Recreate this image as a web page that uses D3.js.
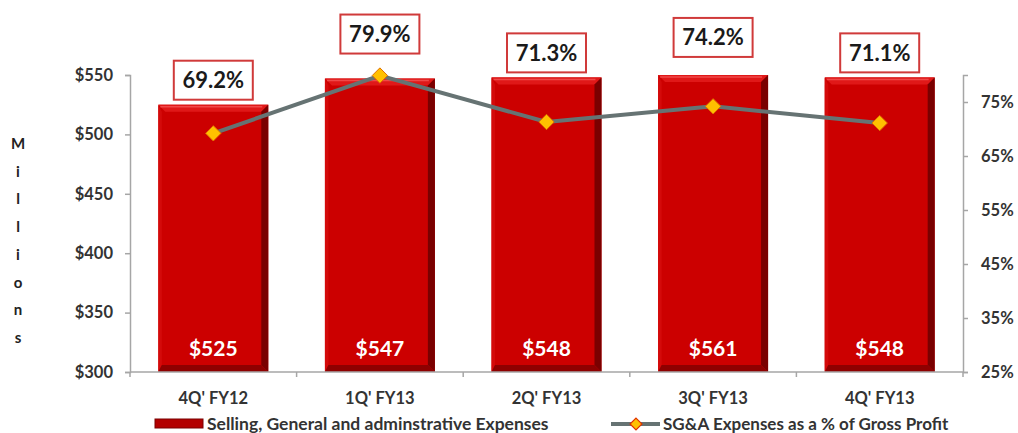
<!DOCTYPE html>
<html>
<head>
<meta charset="utf-8">
<script src="https://cdn.jsdelivr.net/npm/d3@7"></script>
<style>
  body { margin: 0; background: #fff; }
  text { font-family: Lato, "Open Sans", sans-serif; }
</style>
</head>
<body>
<div id="chart"></div>
<script>
var quarters = ["4Q' FY12", "1Q' FY13", "2Q' FY13", "3Q' FY13", "4Q' FY13"];
var sgaExpenses = [525, 547, 548, 561, 548];
var sgaPctGross = [69.2, 79.9, 71.3, 74.2, 71.1];
var leftTicks = [300, 350, 400, 450, 500, 550];
var rightTicks = [25, 35, 45, 55, 65, 75];

var w = 1018, h = 433;
var plotLeft = 130, plotRight = 963, plotTop = 75, plotBottom = 372;

var svg = d3.select("#chart").append("svg")
    .attr("width", w)
    .attr("height", h);

var x = d3.scaleBand()
    .domain(quarters)
    .range([plotLeft, plotRight])
    .paddingInner(0.34)
    .paddingOuter(0.17);

var yBar = d3.scaleLinear().domain([300, 550]).range([plotBottom, plotTop]);
var yPct = d3.scaleLinear().domain([25, 80]).range([plotBottom, plotTop]);

function styleAxis(g) {
    g.select(".domain").attr("stroke", "#a6a6a6").attr("stroke-width", 1.5);
    g.selectAll(".tick line").attr("stroke", "#a6a6a6").attr("stroke-width", 1.5);
    g.selectAll("text").attr("fill", "#333").attr("font-size", "16.5px").attr("font-weight", "bold")
        .attr("font-family", "Lato, sans-serif");
}

// left axis
svg.append("g")
    .attr("transform", "translate(" + plotLeft + ",0)")
    .call(d3.axisLeft(yBar)
        .tickValues(leftTicks)
        .tickSize(5)
        .tickPadding(12)
        .tickFormat(function(d) { return "$" + d; }))
    .call(styleAxis);

// right axis
svg.append("g")
    .attr("transform", "translate(" + plotRight + ",0)")
    .call(d3.axisRight(yPct)
        .tickValues(rightTicks)
        .tickSize(5)
        .tickPadding(13)
        .tickFormat(function(d) { return d + "%"; }))
    .call(styleAxis);

// millions label
svg.append("g").selectAll("text")
    .data("Millions".split(""))
    .enter().append("text")
    .attr("x", 18)
    .attr("y", function(d, i) { return 149 + i * 27.7; })
    .attr("text-anchor", "middle")
    .attr("font-size", "15px")
    .attr("font-weight", "bold")
    .attr("fill", "#222")
    .text(function(d) { return d; });

// bars with bevel
var bev = 7;
var bars = svg.append("g").selectAll("g.bar")
    .data(quarters)
    .enter().append("g")
    .attr("class", "bar");

bars.each(function(q, i) {
    var g = d3.select(this);
    var x0 = x(q), x1 = x(q) + x.bandwidth();
    var y0 = yBar(Math.min(sgaExpenses[i], 550)), y1 = plotBottom;
    g.append("rect").attr("x", x0).attr("y", y0).attr("width", x1 - x0).attr("height", y1 - y0)
        .attr("fill", "#cc0000");
    // top
    g.append("polygon").attr("points", [[x0, y0], [x1, y0], [x1 - bev, y0 + bev], [x0 + bev, y0 + bev]].join(" "))
        .attr("fill", "#e01818");
    g.append("line").attr("x1", x0 + 2).attr("x2", x1 - 6).attr("y1", y0 + 2).attr("y2", y0 + 2)
        .attr("stroke", "#f04848").attr("stroke-width", 1.5);
    // left
    g.append("polygon").attr("points", [[x0, y0], [x0 + bev * 0.5, y0 + bev], [x0 + bev * 0.5, y1 - bev], [x0, y1]].join(" "))
        .attr("fill", "#d40a0a");
    // right
    g.append("polygon").attr("points", [[x1, y0], [x1, y1], [x1 - bev, y1 - bev], [x1 - bev, y0 + bev]].join(" "))
        .attr("fill", "#7a0000");
    // bottom
    g.append("polygon").attr("points", [[x0, y1], [x1, y1], [x1 - bev, y1 - bev], [x0 + bev * 0.5, y1 - bev]].join(" "))
        .attr("fill", "#8e0000");
    // value label
    g.append("text")
        .attr("x", (x0 + x1) / 2)
        .attr("y", 356)
        .attr("text-anchor", "middle")
        .attr("font-size", "21px")
        .attr("font-weight", "bold")
        .attr("fill", "#fff")
        .text("$" + sgaExpenses[i]);
});

// x axis
svg.append("line")
    .attr("x1", plotLeft).attr("x2", plotRight)
    .attr("y1", plotBottom).attr("y2", plotBottom)
    .attr("stroke", "#a6a6a6").attr("stroke-width", 1.5);
svg.append("g").selectAll("line")
    .data(d3.range(quarters.length + 1))
    .enter().append("line")
    .attr("x1", function(d) { return plotLeft + d * (plotRight - plotLeft) / quarters.length; })
    .attr("x2", function(d) { return plotLeft + d * (plotRight - plotLeft) / quarters.length; })
    .attr("y1", plotBottom).attr("y2", plotBottom + 5)
    .attr("stroke", "#a6a6a6").attr("stroke-width", 1.5);
svg.append("g").selectAll("text")
    .data(quarters)
    .enter().append("text")
    .attr("x", function(d) { return x(d) + x.bandwidth() / 2; })
    .attr("y", 404)
    .attr("text-anchor", "middle")
    .attr("font-size", "16.5px")
    .attr("font-weight", "bold")
    .attr("fill", "#333")
    .text(function(d) { return d; });

// line
var cx = function(d, i) { return x(quarters[i]) + x.bandwidth() / 2; };
var line = d3.line()
    .x(function(d, i) { return cx(d, i); })
    .y(function(d) { return yPct(d); });
svg.append("path")
    .datum(sgaPctGross)
    .attr("d", line)
    .attr("fill", "none")
    .attr("stroke", "#667373")
    .attr("stroke-width", 4);

var diamond = d3.symbol().type(d3.symbolDiamond2).size(150);
svg.append("g").selectAll("path")
    .data(sgaPctGross)
    .enter().append("path")
    .attr("d", diamond)
    .attr("transform", function(d, i) { return "translate(" + cx(d, i) + "," + yPct(d) + ")"; })
    .attr("fill", "#ffc000")
    .attr("stroke", "#e07000")
    .attr("stroke-width", 1);

// percentage label boxes
var boxW = 79, boxH = 39;
var labels = svg.append("g").selectAll("g")
    .data(sgaPctGross)
    .enter().append("g")
    .attr("transform", function(d, i) {
        var yb = Math.min(yBar(sgaExpenses[i]) - 5, yPct(d) - 22);
        return "translate(" + (cx(d, i) - boxW / 2) + "," + (yb - boxH) + ")";
    });
labels.append("rect")
    .attr("width", boxW).attr("height", boxH)
    .attr("fill", "#fff")
    .attr("stroke", "#d03a3a")
    .attr("stroke-width", 2);
labels.append("text")
    .attr("x", boxW / 2)
    .attr("y", 27.5)
    .attr("text-anchor", "middle")
    .attr("font-size", "22px")
    .attr("font-weight", "bold")
    .attr("fill", "#1a1a1a")
    .text(function(d) { return d.toFixed(1) + "%"; });

// legend
var leg = svg.append("g");
leg.append("rect").attr("x", 155).attr("y", 419).attr("width", 48).attr("height", 9)
    .attr("fill", "#b30000").attr("stroke", "#7a0000").attr("stroke-width", 1);
leg.append("text").attr("x", 207).attr("y", 430)
    .attr("font-size", "17.5px").attr("font-weight", "bold").attr("fill", "#333")
    .text("Selling, General and adminstrative Expenses");
leg.append("line").attr("x1", 611).attr("x2", 660).attr("y1", 424).attr("y2", 424)
    .attr("stroke", "#667373").attr("stroke-width", 4);
leg.append("path").attr("d", d3.symbol().type(d3.symbolDiamond2).size(90))
    .attr("transform", "translate(636,424)")
    .attr("fill", "#ffc000").attr("stroke", "#e03000").attr("stroke-width", 1.2);
leg.append("text").attr("x", 663).attr("y", 430)
    .attr("font-size", "17px").attr("font-weight", "bold").attr("fill", "#333")
    .text("SG&A Expenses as a % of Gross Profit");
</script>
</body>
</html>
